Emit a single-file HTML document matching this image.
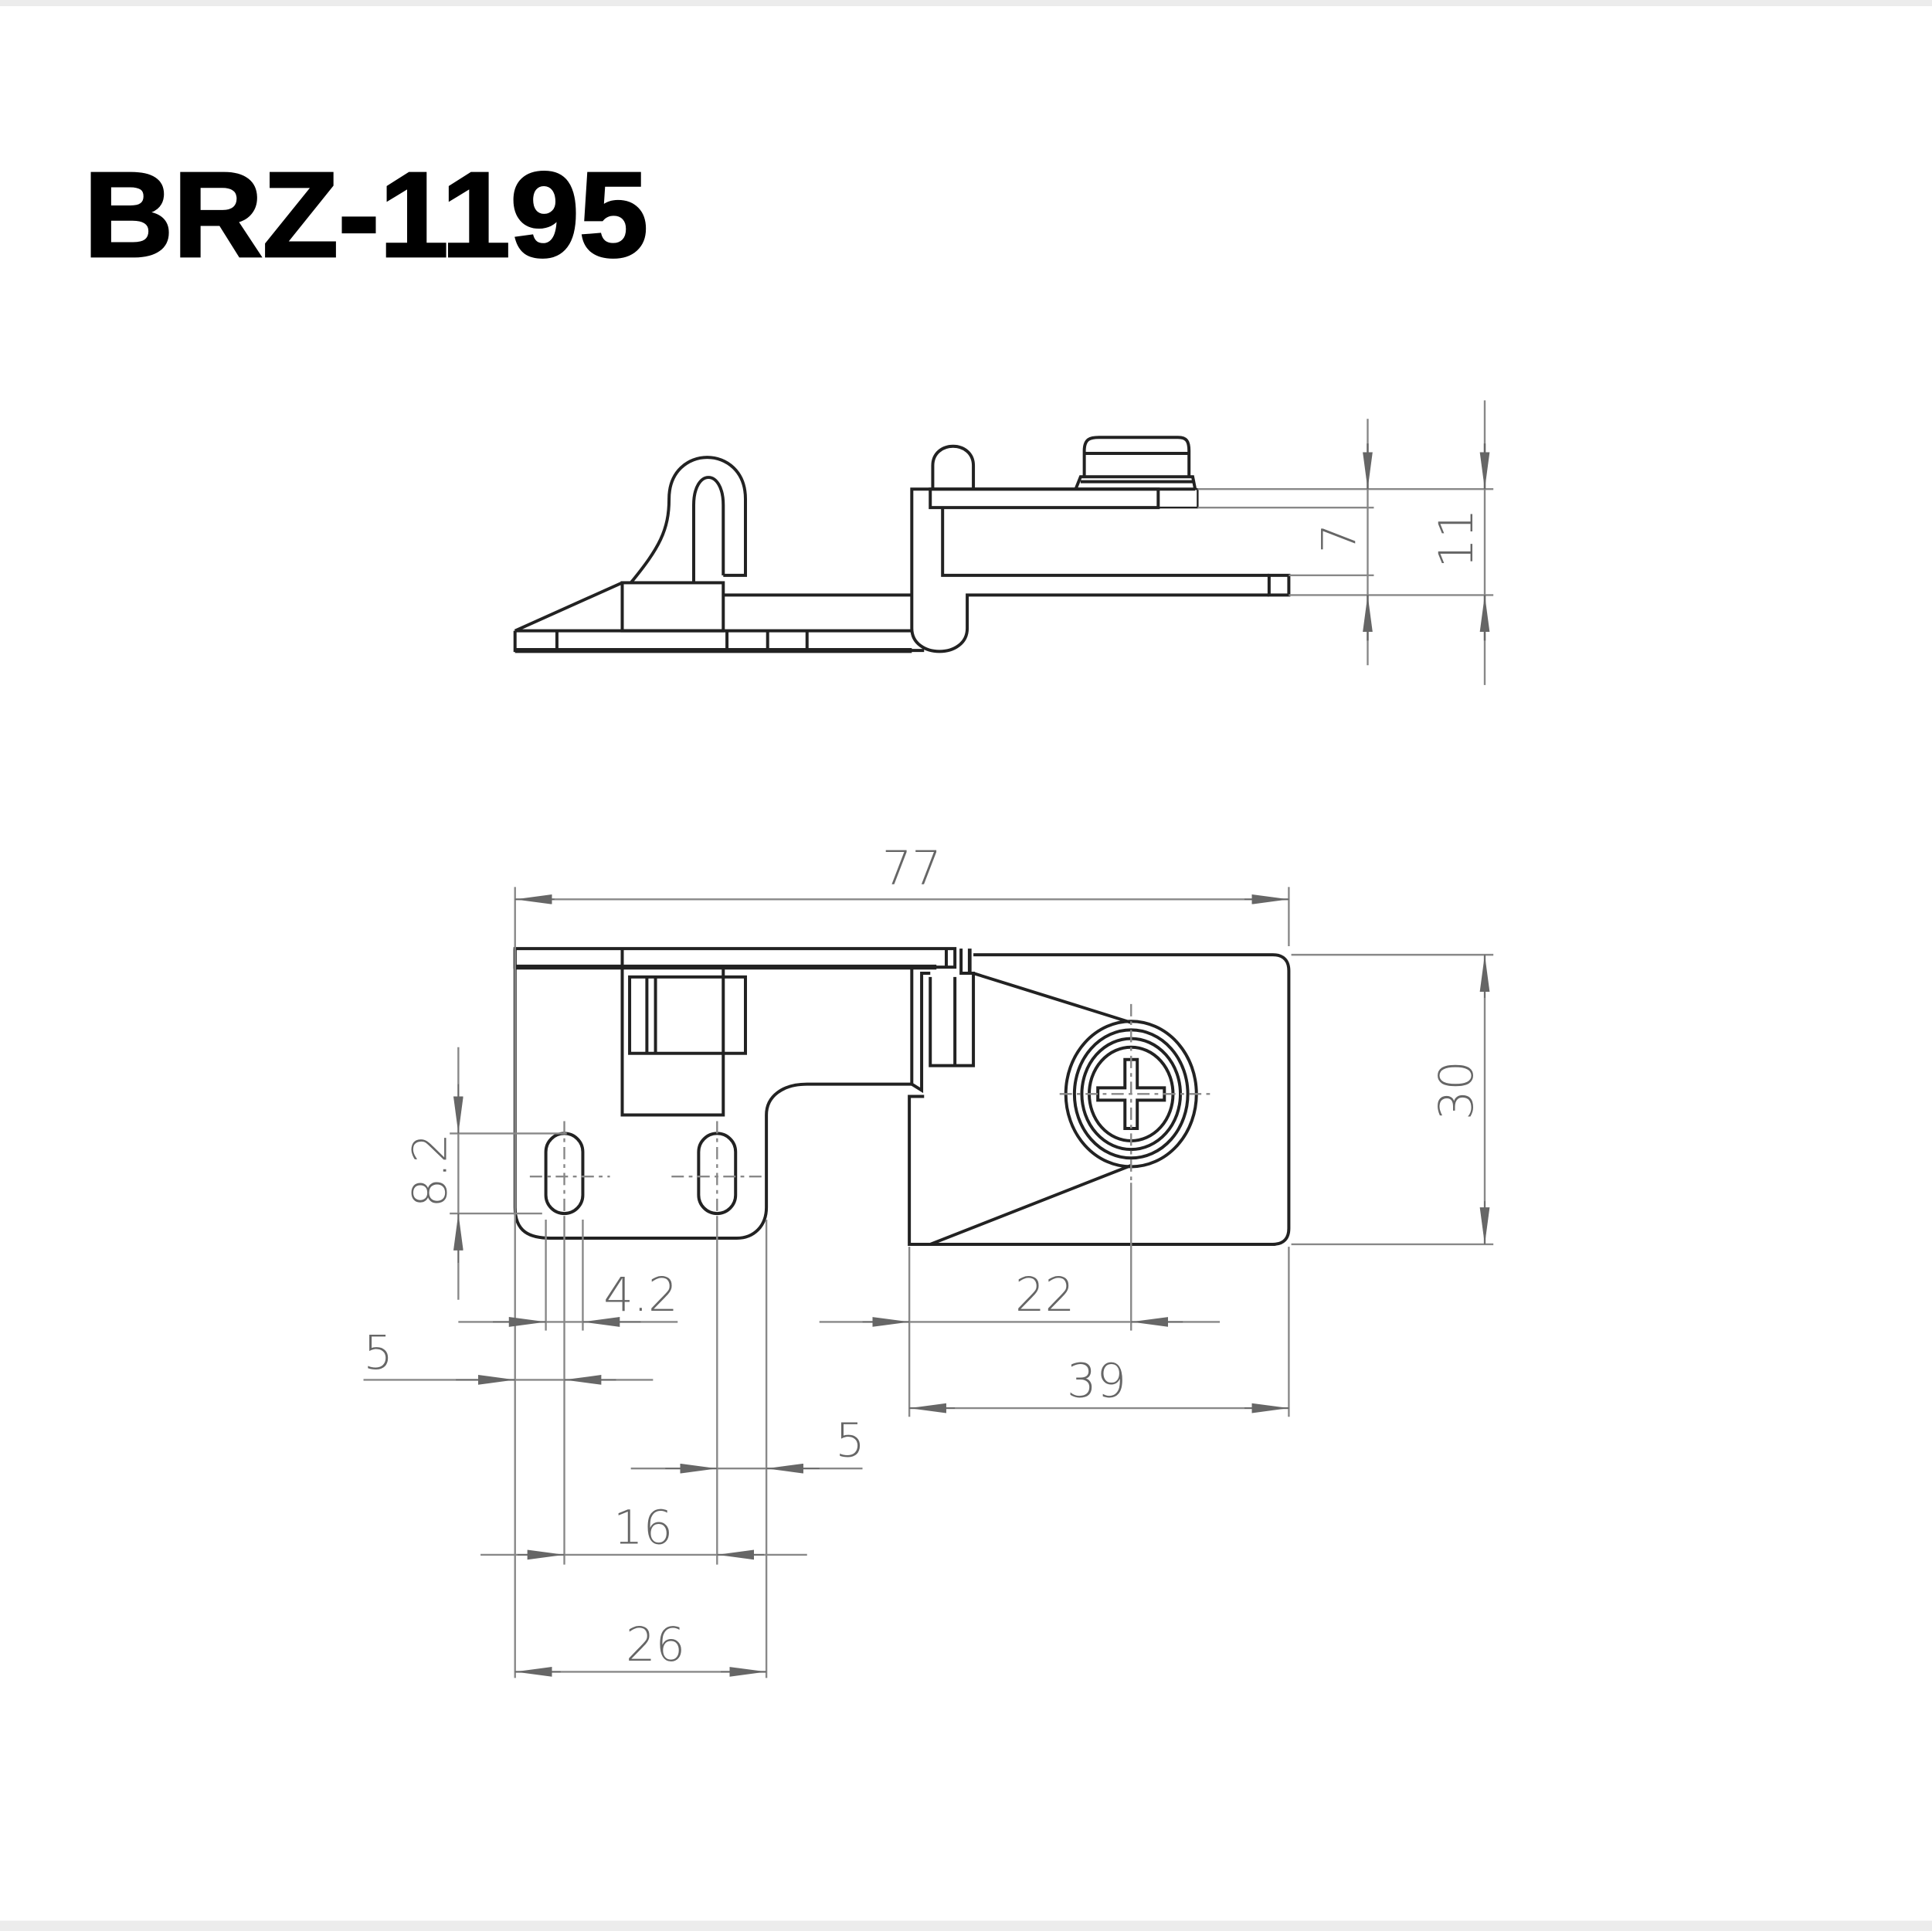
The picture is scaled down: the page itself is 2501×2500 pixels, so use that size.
<!DOCTYPE html>
<html><head><meta charset="utf-8"><style>
html,body{margin:0;padding:0;background:#fff;}
svg{display:block;}
.t{font-family:"DejaVu Sans","Liberation Sans",sans-serif;font-weight:200;fill:#666;font-size:38px;}
</style></head><body>
<svg width="2501" height="2500" viewBox="0 0 1568 1567.4" preserveAspectRatio="none" xmlns="http://www.w3.org/2000/svg">
<defs>
<marker id="a" viewBox="0 0 30 8" refX="30" refY="4" markerWidth="30" markerHeight="8" markerUnits="userSpaceOnUse" orient="auto"><path d="M0,0 L30,4 L0,8z" fill="#666"/></marker>
</defs>
<rect x="0" y="0" width="1568" height="5" fill="#ececec"/>
<rect x="0" y="1559" width="1568" height="9" fill="#ececec"/>
<text x="68" y="208" font-family="Liberation Sans,sans-serif" font-weight="bold" font-size="98" fill="#000" textLength="458" lengthAdjust="spacingAndGlyphs" stroke="#000" stroke-width="2">BRZ-1195</text>

<!-- TOP VIEW -->
<g fill="none" stroke="#222" stroke-width="2.5">
<path d="M418,512 L418,528 L750,528"/>
<line x1="418" y1="512" x2="740" y2="512"/>
<line x1="418" y1="528" x2="740" y2="528" stroke-width="4"/>
<line x1="452" y1="512" x2="452" y2="528"/>
<line x1="590" y1="512" x2="590" y2="528"/>
<line x1="623" y1="512" x2="623" y2="528"/>
<line x1="655" y1="512" x2="655" y2="528"/>
<path d="M418,512 L505,473"/>
<rect x="505" y="473" width="82" height="39"/>
<line x1="587" y1="483" x2="740" y2="483"/>
<path d="M512,473 C535,445 543,430 543,405 C543,360 605,360 605,405 L605,467 L587,467 M563,473 L563,410 C563,380 587,380 587,410 L587,467"/>
<path d="M740,510 L740,397 L970,397 M740,510 C740,535 785,535 785,510 L785,483 L1030,483 M765,412 L765,467 L1030,467"/>
<rect x="1030" y="467" width="16" height="16"/>
<rect x="755" y="397" width="185" height="15"/>
<rect x="940" y="397" width="32" height="15" stroke-width="1.5"/>
<path d="M757,397 L757,378 C757,357 790,357 790,378 L790,397"/>
<path d="M880,387 L880,366 C880,356 885,355 892,355 L956,355 C963,355 965,358 965,366 L965,387"/>
<line x1="880" y1="368" x2="965" y2="368"/>
<path d="M873,397 L877,387 L968,387 L970,397"/>
<line x1="877" y1="391" x2="968" y2="391"/>
</g>
<g stroke="#888" stroke-width="1.5" fill="none">
<line x1="972" y1="397" x2="1212" y2="397"/>
<line x1="972" y1="412" x2="1115" y2="412"/>
<line x1="1046" y1="467" x2="1115" y2="467"/>
<line x1="1046" y1="483" x2="1212" y2="483"/>
<line x1="1110" y1="340" x2="1110" y2="540"/>
<line x1="1205" y1="325" x2="1205" y2="556"/>
</g>
<g stroke="#666" stroke-width="1.5" marker-end="url(#a)">
<line x1="1110" y1="360" x2="1110" y2="397"/>
<line x1="1110" y1="520" x2="1110" y2="483"/>
<line x1="1205" y1="360" x2="1205" y2="397"/>
<line x1="1205" y1="520" x2="1205" y2="483"/>
</g>
<text class="t" transform="translate(1100,437) rotate(-90)" text-anchor="middle">7</text>
<text class="t" transform="translate(1195,437) rotate(-90)" text-anchor="middle">11</text>

<!-- FRONT VIEW -->
<g fill="none" stroke="#222" stroke-width="2.5">
<path d="M418,770 L775,770 L775,785 L418,785 Z"/>
<line x1="418" y1="785" x2="760" y2="785" stroke-width="4"/>
<line x1="768" y1="770" x2="768" y2="785"/>
<path d="M418,770 L418,980 C418,1000 430,1005 447,1005 L598,1005 C612,1005 622,995 622,980 L622,905 C622,890 635,880 655,880 L740,880"/>
<path d="M505,770 L505,905 L587,905 L587,785"/>
<rect x="511" y="793" width="94" height="62"/>
<line x1="525" y1="793" x2="525" y2="855"/>
<line x1="532" y1="793" x2="532" y2="855"/>
<rect x="443" y="920" width="30" height="65" rx="15"/>
<rect x="567" y="920" width="30" height="65" rx="15"/>
<path d="M790,775 L1033,775 C1042,775 1046,780 1046,788 L1046,997 C1046,1005 1042,1010 1033,1010 L738,1010 L738,890 L750,890"/>
<path d="M740,785 L740,880 L748,885 L748,790 L755,790 M755,793 L755,865 L790,865 L790,790 L780,790 L780,770"/>
<line x1="775" y1="793" x2="775" y2="865"/>
<line x1="787" y1="770" x2="787" y2="790" stroke-width="3"/>
<path d="M790,790 L918,830 M755,1010 L918,946"/>
<ellipse cx="918" cy="888" rx="53" ry="59"/>
<ellipse cx="918" cy="888" rx="46" ry="52"/>
<ellipse cx="918" cy="888" rx="40" ry="45"/>
<ellipse cx="918" cy="888" rx="34" ry="38"/>
<path d="M913,860 L923,860 L923,883 L945,883 L945,893 L923,893 L923,916 L913,916 L913,893 L891,893 L891,883 L913,883 Z"/>
</g>
<g stroke="#888" stroke-width="1.5" fill="none" stroke-dasharray="10,4,3,4">
<line x1="430" y1="955" x2="495" y2="955"/>
<line x1="545" y1="955" x2="622" y2="955"/>
<line x1="458" y1="910" x2="458" y2="990"/>
<line x1="582" y1="910" x2="582" y2="990"/>
<line x1="860" y1="888" x2="985" y2="888"/>
<line x1="918" y1="815" x2="918" y2="960"/>
</g>
<g stroke="#888" stroke-width="1.5" fill="none">
<line x1="418" y1="720" x2="418" y2="1362"/>
<line x1="1046" y1="720" x2="1046" y2="768"/>
<line x1="1046" y1="1012" x2="1046" y2="1150"/>
<line x1="418" y1="730" x2="1046" y2="730"/>
<line x1="1048" y1="775" x2="1212" y2="775"/>
<line x1="1048" y1="1010" x2="1212" y2="1010"/>
<line x1="1205" y1="775" x2="1205" y2="1010"/>
<line x1="365" y1="920" x2="460" y2="920"/>
<line x1="365" y1="985" x2="440" y2="985"/>
<line x1="372" y1="850" x2="372" y2="1055"/>
<line x1="443" y1="990" x2="443" y2="1080"/>
<line x1="473" y1="990" x2="473" y2="1080"/>
<line x1="458" y1="990" x2="458" y2="1270"/>
<line x1="582" y1="990" x2="582" y2="1270"/>
<line x1="622" y1="990" x2="622" y2="1362"/>
<line x1="738" y1="1012" x2="738" y2="1150"/>
<line x1="918" y1="960" x2="918" y2="1080"/>
<line x1="372" y1="1073" x2="550" y2="1073"/>
<line x1="295" y1="1120" x2="530" y2="1120"/>
<line x1="665" y1="1073" x2="990" y2="1073"/>
<line x1="738" y1="1143" x2="1046" y2="1143"/>
<line x1="512" y1="1192" x2="700" y2="1192"/>
<line x1="390" y1="1262" x2="655" y2="1262"/>
<line x1="418" y1="1357" x2="622" y2="1357"/>
</g>
<g stroke="#666" stroke-width="1" marker-end="url(#a)">
<line x1="450" y1="730" x2="418" y2="730"/>
<line x1="1010" y1="730" x2="1046" y2="730"/>
<line x1="1205" y1="810" x2="1205" y2="775"/>
<line x1="1205" y1="975" x2="1205" y2="1010"/>
<line x1="372" y1="880" x2="372" y2="920"/>
<line x1="372" y1="1025" x2="372" y2="985"/>
<line x1="400" y1="1073" x2="443" y2="1073"/>
<line x1="520" y1="1073" x2="473" y2="1073"/>
<line x1="370" y1="1120" x2="418" y2="1120"/>
<line x1="500" y1="1120" x2="458" y2="1120"/>
<line x1="700" y1="1073" x2="738" y2="1073"/>
<line x1="960" y1="1073" x2="918" y2="1073"/>
<line x1="775" y1="1143" x2="738" y2="1143"/>
<line x1="1010" y1="1143" x2="1046" y2="1143"/>
<line x1="540" y1="1192" x2="582" y2="1192"/>
<line x1="665" y1="1192" x2="622" y2="1192"/>
<line x1="420" y1="1262" x2="458" y2="1262"/>
<line x1="620" y1="1262" x2="582" y2="1262"/>
<line x1="455" y1="1357" x2="418" y2="1357"/>
<line x1="585" y1="1357" x2="622" y2="1357"/>
</g>
<g class="t" text-anchor="middle">
<text x="740" y="718">77</text>
<text x="520" y="1064">4.2</text>
<text x="307" y="1111">5</text>
<text x="848" y="1064">22</text>
<text x="890" y="1134">39</text>
<text x="690" y="1182">5</text>
<text x="522" y="1253">16</text>
<text x="532" y="1348">26</text>
</g>
<text class="t" text-anchor="middle" transform="translate(1195,885) rotate(-90)">30</text>
<text class="t" text-anchor="middle" transform="translate(362,950) rotate(-90)">8.2</text>
</svg>
</body></html>
